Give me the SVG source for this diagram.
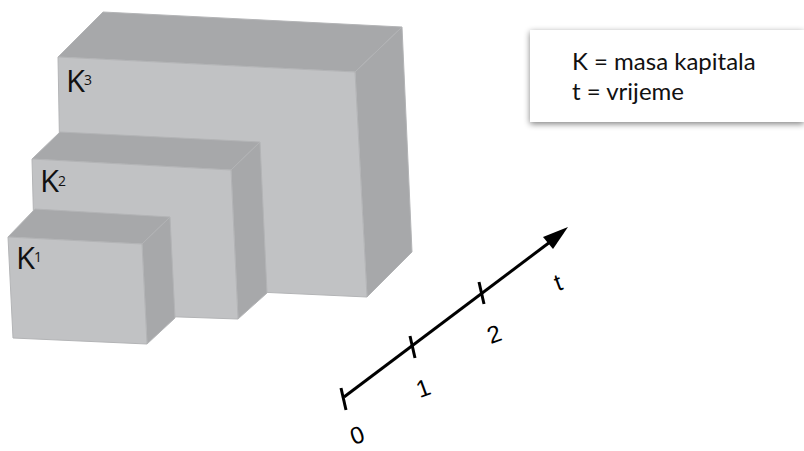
<svg xmlns="http://www.w3.org/2000/svg" width="804" height="451" viewBox="0 0 804 451">
<defs>
<style>
.front{fill:#c1c2c4;stroke:#b3b4b6;stroke-width:1}
.dark{fill:#a7a8aa;stroke:#b3b4b6;stroke-width:1}
.k{font-family:"Open Sans","Liberation Sans",sans-serif;font-size:31px;fill:#111}
.sup{font-family:"Open Sans","Liberation Sans",sans-serif;font-size:14px;fill:#111}
.leg{font-family:Lato,"Open Sans",sans-serif;font-size:24px;fill:#111}
.ax{font-family:"Liberation Sans",Arial,sans-serif;font-size:24px;fill:#000}
.axis{stroke:#000;stroke-width:3;fill:none}
</style>
<filter id="sh" x="-10%" y="-20%" width="120%" height="150%">
<feGaussianBlur in="SourceAlpha" stdDeviation="3"/>
<feOffset dx="0" dy="2"/>
<feComponentTransfer><feFuncA type="linear" slope="0.5"/></feComponentTransfer>
<feMerge><feMergeNode/><feMergeNode in="SourceGraphic"/></feMerge>
</filter>
</defs>
<rect width="804" height="451" fill="#fff"/>
<g id="K3">
<polygon class="dark" points="58,57 103,12 402,27 355,72"/>
<polygon class="dark" points="355,72 402,27 412,252 367,297"/>
<polygon class="front" points="58,57 355,72 367,297 62,283"/>
<text class="k" x="66" y="92">K</text><text class="sup" x="84" y="85">3</text>
</g>
<g id="K2">
<polygon class="dark" points="32,159 60,132 260,142 231,170"/>
<polygon class="dark" points="231,170 260,142 267,293 238,319"/>
<polygon class="front" points="32,159 231,170 238,319 36,312"/>
<text class="k" x="40" y="192">K</text><text class="sup" x="58" y="186">2</text>
</g>
<g id="K1">
<polygon class="dark" points="8,237 35,209 170,217 142,244"/>
<polygon class="dark" points="142,244 170,217 175,318 147,344"/>
<polygon class="front" points="8,237 142,244 147,344 13,338"/>
<text class="k" x="16" y="269">K</text><text class="sup" x="34" y="262">1</text>
</g>
<g id="legend">
<rect x="530" y="30" width="274" height="92" fill="#fff" filter="url(#sh)"/>
<text class="leg" x="572" y="70">K = masa kapitala</text>
<text class="leg" x="572" y="100">t = vrijeme</text>
</g>
<g id="connectors">
<line class="axis" x1="344" y1="397" x2="550" y2="242"/>
<path d="M568,227 L543,237 L553,249 Z" fill="#000"/>
<line class="axis" x1="341" y1="388" x2="346" y2="410"/>
<line class="axis" x1="410" y1="336" x2="415" y2="358"/>
<line class="axis" x1="479" y1="282" x2="484" y2="304"/>
</g>
<g id="labels">
<text class="ax" transform="translate(360,443) rotate(-20)" text-anchor="middle">0</text>
<text class="ax" transform="translate(426,396) rotate(-20)" text-anchor="middle">1</text>
<text class="ax" transform="translate(497,342) rotate(-20)" text-anchor="middle">2</text>
<text class="ax" transform="translate(561,290) rotate(-20)" text-anchor="middle">t</text>
</g>
</svg>
